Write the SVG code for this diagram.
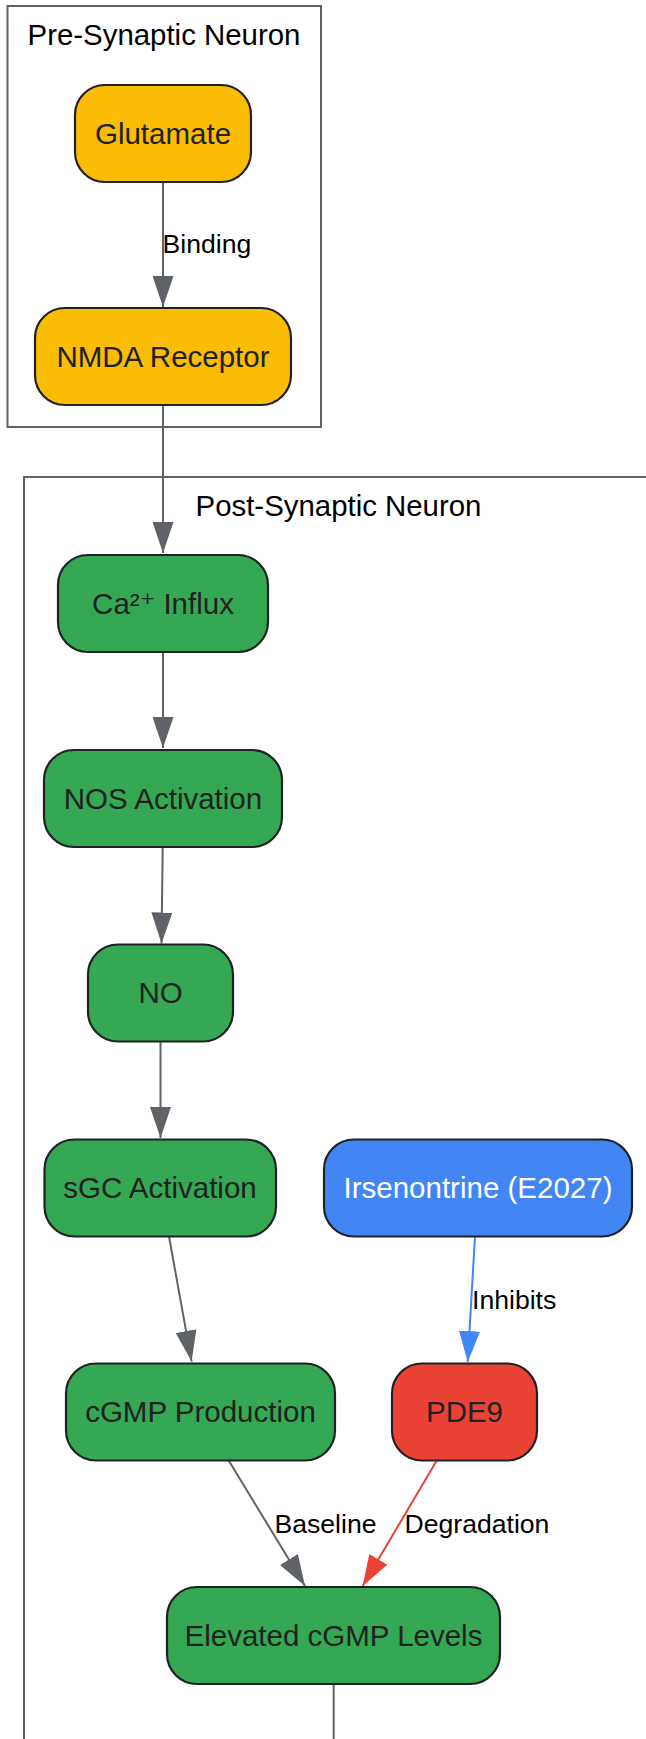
<svg xmlns="http://www.w3.org/2000/svg" width="646" height="1739" viewBox="0 0 646 1739">
<style>
.frame{fill:#ffffff;stroke:#5f6368;stroke-width:2}
.title{font-family:"Liberation Sans",Arial,sans-serif;font-size:29.4px;fill:#000000;text-anchor:middle}
.node rect{stroke:#202124;stroke-width:2.2}
.node text{font-family:"Liberation Sans",Arial,"DejaVu Sans",sans-serif;font-size:29.5px;fill:#202124;text-anchor:middle}
.yellow rect{fill:#fbbc05}
.green rect{fill:#34a853}
.blue rect{fill:#4285f4}
.blue text{fill:#ffffff}
.red rect{fill:#ea4335}
.edge{fill:none;stroke-width:2}
.gray{stroke:#5f6368}
.eblue{stroke:#4285f4}
.ered{stroke:#ea4335}
.elabel{font-family:"Liberation Sans",Arial,sans-serif;font-size:26.6px;fill:#000000}
</style>
<defs>
<marker id="ah-gray" markerUnits="userSpaceOnUse" markerWidth="31" markerHeight="21" refX="31" refY="10.5" orient="auto"><path d="M0,0 L31,10.5 L0,21 Z" fill="#5f6368"/></marker>
<marker id="ah-blue" markerUnits="userSpaceOnUse" markerWidth="31" markerHeight="21" refX="31" refY="10.5" orient="auto"><path d="M0,0 L31,10.5 L0,21 Z" fill="#4285f4"/></marker>
<marker id="ah-red" markerUnits="userSpaceOnUse" markerWidth="31" markerHeight="21" refX="31" refY="10.5" orient="auto"><path d="M0,0 L31,10.5 L0,21 Z" fill="#ea4335"/></marker>
</defs>
<rect width="646" height="1739" fill="#ffffff"/>
<g id="cluster-pre">
<rect class="frame" x="7.5" y="6" width="313.5" height="421"/>
<text class="title" x="164" y="45">Pre-Synaptic Neuron</text>
</g>
<g id="cluster-post">
<rect class="frame" x="24" y="477" width="640" height="1300"/>
<text class="title" x="338.5" y="516">Post-Synaptic Neuron</text>
</g>
<g id="connectors">
<line class="edge gray" x1="163" y1="182" x2="163" y2="307" marker-end="url(#ah-gray)"/>
<line class="edge gray" x1="163" y1="405" x2="163" y2="553" marker-end="url(#ah-gray)"/>
<line class="edge gray" x1="163" y1="652" x2="163" y2="748" marker-end="url(#ah-gray)"/>
<line class="edge gray" x1="162.7" y1="847" x2="161.5" y2="943.5" marker-end="url(#ah-gray)"/>
<line class="edge gray" x1="160.5" y1="1042" x2="160.5" y2="1138" marker-end="url(#ah-gray)"/>
<line class="edge gray" x1="169" y1="1236.5" x2="191.6" y2="1361.6" marker-end="url(#ah-gray)"/>
<line class="edge eblue" x1="475" y1="1236.5" x2="467.7" y2="1362" marker-end="url(#ah-blue)"/>
<line class="edge gray" x1="228.7" y1="1460.5" x2="305" y2="1586" marker-end="url(#ah-gray)"/>
<line class="edge ered" x1="436.8" y1="1460.5" x2="362.6" y2="1586" marker-end="url(#ah-red)"/>
<line class="edge gray" x1="333.7" y1="1684" x2="333.7" y2="1745"/>
<text class="elabel" x="162.5" y="253">Binding</text>
<text class="elabel" x="472" y="1308.7">Inhibits</text>
<text class="elabel" x="274.5" y="1532.6">Baseline</text>
<text class="elabel" x="404.5" y="1532.6">Degradation</text>
</g>
<g id="node-glutamate" class="node yellow">
<rect x="75" y="85" width="176" height="97" rx="30" ry="30"/>
<text x="163" y="143.5">Glutamate</text>
</g>
<g id="node-nmda" class="node yellow">
<rect x="35" y="308" width="256" height="97" rx="30" ry="30"/>
<text x="163" y="366.5">NMDA Receptor</text>
</g>
<g id="node-ca" class="node green">
<rect x="58" y="555" width="210" height="97" rx="30" ry="30"/>
<text x="163" y="613.5">Ca²⁺ Influx</text>
</g>
<g id="node-nos" class="node green">
<rect x="44" y="750" width="238" height="97" rx="30" ry="30"/>
<text x="163" y="808.5">NOS Activation</text>
</g>
<g id="node-no" class="node green">
<rect x="88" y="944.5" width="145" height="97" rx="30" ry="30"/>
<text x="160.5" y="1003">NO</text>
</g>
<g id="node-sgc" class="node green">
<rect x="44.5" y="1139.5" width="231.5" height="97" rx="30" ry="30"/>
<text x="160" y="1198">sGC Activation</text>
</g>
<g id="node-irsenontrine" class="node blue">
<rect x="324" y="1139.5" width="308" height="97" rx="30" ry="30"/>
<text x="478" y="1198">Irsenontrine (E2027)</text>
</g>
<g id="node-cgmp" class="node green">
<rect x="66" y="1363.5" width="269" height="97" rx="30" ry="30"/>
<text x="200.5" y="1422">cGMP Production</text>
</g>
<g id="node-pde9" class="node red">
<rect x="392" y="1363.5" width="145" height="97" rx="30" ry="30"/>
<text x="464.5" y="1422">PDE9</text>
</g>
<g id="node-elevated" class="node green">
<rect x="167" y="1587" width="333" height="97" rx="30" ry="30"/>
<text x="333.5" y="1645.5">Elevated cGMP Levels</text>
</g>
</svg>
